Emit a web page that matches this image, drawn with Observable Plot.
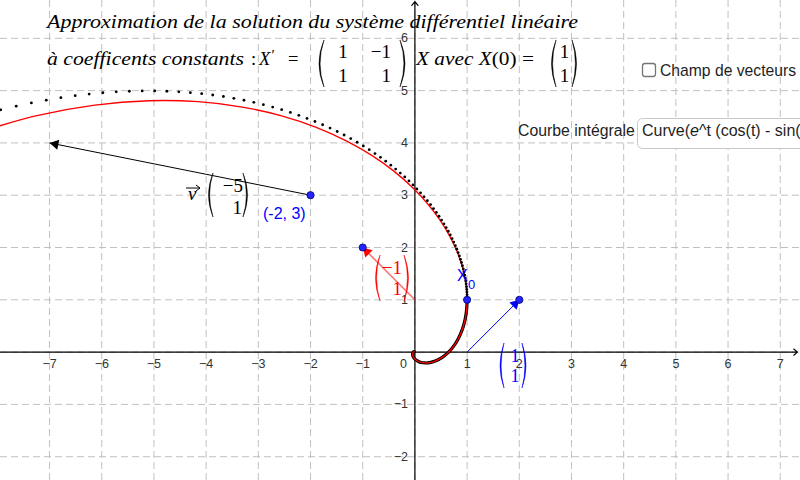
<!DOCTYPE html>
<html><head><meta charset="utf-8">
<script src="https://cdn.jsdelivr.net/npm/d3@7"></script>
<script src="https://cdn.jsdelivr.net/npm/@observablehq/plot@0.6"></script>
<style>
html,body{margin:0;padding:0;background:#fff;}
#wrap{position:relative;width:800px;height:480px;overflow:hidden;}
#overlay{position:absolute;left:0;top:0;pointer-events:none;}
</style></head><body>
<div id="wrap"></div>
<script>
// ---- view window (data units) ----
const xDomain = [-7.94, 7.388];
const yDomain = [-2.455, 6.723];

// ---- grid and tick labels ----
const gridXValues = [-7,-6,-5,-4,-3,-2,-1,0,1,2,3,4,5,6,7];
const gridYValues = [-2,-1,0,1,2,3,4,5,6];
const xTickValues = [-7,-6,-5,-4,-3,-2,-1,1,2,3,4,5,6,7];
const yTickValues = [-2,-1,1,2,3,4,5,6];

// ---- axes (start / arrow tip) ----
const axisFromX = [-7.94, 0];
const axisFromY = [0, -2.455];
const axisToX = [7.33, 0];
const axisToY = [0, 6.70];

// ---- exact integral curve (red), parameter t ----
const curveT = [-4.5,-4.25,-4,-3.75,-3.5,-3.25,-3,-2.75,-2.5,-2.25,-2,-1.8,-1.6,-1.4,-1.2,-1.0,-0.9,-0.8,-0.7,-0.6,-0.5,-0.4,-0.3,-0.2,-0.1,0,0.1,0.2,0.3,0.4,0.5,0.6,0.7,0.8,0.9,1.0,1.1,1.2,1.3,1.4,1.5,1.6,1.7,1.8,1.9];
const curveX = [-0.0132,-0.0191,-0.0258,-0.0327,-0.0389,-0.0427,-0.0423,-0.0347,-0.0166,0.0158,0.0667,0.1234,0.1959,0.2849,0.3899,0.5083,0.5712,0.6354,0.6997,0.7628,0.8231,0.8784,0.9267,0.9651,0.9907,1,0.9893,0.9544,0.8907,0.7931,0.6565,0.4750,0.2429,-0.0460,-0.3978,-0.8187,-1.3147,-1.8914,-2.5541,-3.3070,-4.1534,-5.0956,-6.1336,-7.2659,-8.4861];
const curveY = [0.0085,0.0064,0.0019,-0.0059,-0.0177,-0.0344,-0.0563,-0.0835,-0.1149,-0.1482,-0.1794,-0.1985,-0.2077,-0.2011,-0.1716,-0.1108,-0.0658,-0.0093,0.0599,0.1431,0.2415,0.3564,0.4888,0.6398,0.8100,1,1.2100,1.4397,1.6885,1.9550,2.2373,2.5327,2.8375,3.1471,3.4556,3.7561,4.0400,4.2976,4.5171,4.6855,4.7875,4.8063,4.7230,4.5169,4.1631];

// ---- Euler approximation points (black dots) ----
const eulerX = [1.000,1.000,0.999,0.996,0.993,0.988,0.982,0.974,0.965,0.954,0.941,0.927,0.911,0.893,0.874,0.852,0.828,0.803,0.775,0.744,0.712,0.677,0.639,0.599,0.556,0.511,0.462,0.411,0.357,0.300,0.239,0.175,0.108,0.038,-0.036,-0.114,-0.195,-0.280,-0.369,-0.462,-0.559,-0.660,-0.765,-0.875,-0.988,-1.107,-1.230,-1.357,-1.489,-1.626,-1.768,-1.915,-2.067,-2.224,-2.386,-2.553,-2.725,-2.903,-3.086,-3.275,-3.469,-3.669,-3.874,-4.085,-4.302,-4.524,-4.752,-4.986,-5.226,-5.471,-5.722,-5.979,-6.241,-6.509,-6.783,-7.063,-7.348,-7.639,-7.935,-8.236];
const eulerY = [1.000,1.048,1.097,1.147,1.199,1.252,1.305,1.360,1.416,1.473,1.532,1.591,1.651,1.713,1.775,1.839,1.904,1.969,2.036,2.103,2.171,2.241,2.311,2.381,2.453,2.525,2.598,2.671,2.745,2.820,2.895,2.970,3.045,3.121,3.197,3.273,3.349,3.424,3.500,3.575,3.650,3.724,3.797,3.870,3.942,4.013,4.083,4.151,4.218,4.284,4.347,4.409,4.469,4.527,4.582,4.635,4.685,4.732,4.776,4.816,4.853,4.887,4.916,4.941,4.961,4.977,4.988,4.994,4.994,4.988,4.977,4.959,4.934,4.903,4.864,4.818,4.765,4.703,4.632,4.553];

// ---- vectors ----
const vecFromX = [-2, 0, 1];
const vecFromY = [3, 1, 0];
const vecToX = [-7, -1, 2];
const vecToY = [4, 2, 1];
const vecColor = ["#000000", "#ff0000", "#0000ff"];
const vecOpacity = [1, 0.55, 1];

// ---- blue points ----
const pointX = [-2, -1, 1, 2];
const pointY = [3, 2, 1, 1];

const minus = d => d < 0 ? "\u2212" + (-d) : String(d);
const kx = 800 / (xDomain[1] - xDomain[0]);
const ky = 480 / (yDomain[1] - yDomain[0]);

function headMark(i) {
  const sx = (vecToX[i] - vecFromX[i]) * kx, sy = -(vecToY[i] - vecFromY[i]) * ky;
  const L = Math.hypot(sx, sy), ux = sx / L, uy = sy / L;
  const r = 3.8;
  const a = 2 * Math.sqrt(Math.PI * r * r / (3 * Math.sqrt(3)));
  const rot = Math.atan2(ux, -uy) * 180 / Math.PI;
  return Plot.dot([i], {x: j => vecToX[j], y: j => vecToY[j], symbol: "triangle", r, rotate: rot,
    fill: vecColor[i], stroke: "none", dx: -ux * a, dy: -uy * a});
}

const idx = n => d3.range(n);
const below = idx(curveT.length).filter(i => curveT[i] <= 0);

const chart = Plot.plot({
  width: 800, height: 480, margin: 0,
  x: {domain: xDomain, axis: null},
  y: {domain: yDomain, axis: null},
  style: {background: "#fff"},
  marks: [
    Plot.ruleX(gridXValues, {x: d => d, stroke: "#c0c0c0", strokeDasharray: "7,4", strokeWidth: 1}),
    Plot.ruleY(gridYValues, {y: d => d, stroke: "#c0c0c0", strokeDasharray: "7,4", strokeWidth: 1}),
    Plot.arrow(idx(2), {x1: i => axisFromX[i], y1: i => axisFromY[i], x2: i => axisToX[i], y2: i => axisToY[i],
      stroke: "#000", strokeWidth: 1.2, headAngle: 80, headLength: 6}),
    Plot.text(xTickValues, {x: d => d, y: 0, text: minus, dy: 12, fontSize: 12.5, fontFamily: "Liberation Sans, Arial, sans-serif", fill: "#333"}),
    Plot.text(yTickValues, {x: 0, y: d => d, text: minus, dx: -7, textAnchor: "end", fontSize: 12.5, fontFamily: "Liberation Sans, Arial, sans-serif", fill: "#333"}),
    Plot.text([0], {x: 0, y: 0, text: () => "0", dx: -11.5, dy: 12, fontSize: 12.5, fontFamily: "Liberation Sans, Arial, sans-serif", fill: "#333"}),
    ...idx(3).map(i => Plot.link([i], {x1: j => vecFromX[j], y1: j => vecFromY[j], x2: j => vecToX[j], y2: j => vecToY[j],
      stroke: vecColor[i], strokeOpacity: vecOpacity[i], strokeWidth: i === 1 ? 1.6 : 1})),
    ...idx(3).map(headMark),
    Plot.line(below, {x: i => curveX[i], y: i => curveY[i], stroke: "#000", strokeWidth: 3.2, curve: "catmull-rom"}),
    Plot.line(idx(curveT.length), {x: i => curveX[i], y: i => curveY[i], stroke: "#ff0000", strokeWidth: 1.3, curve: "catmull-rom"}),
    Plot.dot(idx(eulerX.length), {x: i => eulerX[i], y: i => eulerY[i], r: 1.4, fill: "#000"}),
    Plot.dot(idx(pointX.length), {x: i => pointX[i], y: i => pointY[i], r: 3.6, fill: "#2424ff", stroke: "#00006e", strokeWidth: 0.8})
  ]
});
document.getElementById("wrap").appendChild(chart);

// ---- annotations overlay (title, LaTeX labels, widgets) ----
function paren(x, y0, y1, side, b) {
  const ym = (y0 + y1) / 2, s = side === "L" ? -1 : 1, t = 2.2;
  return `<path d="M${x},${y0} Q${x + s * b},${ym} ${x},${y1} Q${x + s * (b - t)},${ym} ${x},${y0} Z" stroke-width="0.5"/>`;
}
const serif = "Liberation Serif, Times New Roman, serif";
const sans = "Liberation Sans, Arial, sans-serif";
const ov = `
<svg id="overlay" width="800" height="480" xmlns="http://www.w3.org/2000/svg">
 <g font-family="${serif}" fill="#000" stroke="#000">
  <text stroke="none" x="47" y="28" font-size="18.5" font-style="italic" textLength="531" lengthAdjust="spacingAndGlyphs">Approximation de la solution du système différentiel linéaire</text>
  <text stroke="none" x="47" y="65" font-size="18.5" font-style="italic" textLength="197" lengthAdjust="spacingAndGlyphs">à coefficents constants</text>
  <text stroke="none" x="251" y="65" font-size="18.5">:</text>
  <text stroke="none" x="259" y="65" font-size="18.5" font-style="italic">X</text>
  <text stroke="none" x="271.5" y="60" font-size="15">′</text>
  <text stroke="none" x="288" y="65" font-size="18.5">=</text>
  ${paren(324, 40, 87, "L", 10)}${paren(400, 40, 87, "R", 10)}
  <text stroke="none" x="343" y="57.5" font-size="19" text-anchor="middle">1</text>
  <text stroke="none" x="391" y="57.5" font-size="19" text-anchor="end">−1</text>
  <text stroke="none" x="343" y="81.5" font-size="19" text-anchor="middle">1</text>
  <text stroke="none" x="391" y="81.5" font-size="19" text-anchor="end">1</text>
  <text stroke="none" x="416" y="65" font-size="18.5" textLength="118" lengthAdjust="spacingAndGlyphs"><tspan font-style="italic">X avec X</tspan>(0) =</text>
  ${paren(556, 40, 87, "L", 9)}${paren(572, 40, 87, "R", 9)}
  <text stroke="none" x="564.5" y="57.5" font-size="19" text-anchor="middle">1</text>
  <text stroke="none" x="564.5" y="81.5" font-size="19" text-anchor="middle">1</text>

  <text stroke="none" x="188" y="200" font-size="19" font-style="italic">v</text>
  <path fill="none" stroke-width="1" d="M186,188 L200,188 M196,185 L200,188 L196,191"/>
  ${paren(213, 173, 217, "L", 9)}${paren(243, 173, 217, "R", 9)}
  <text stroke="none" x="243" y="191.5" font-size="19" text-anchor="end">−5</text>
  <text stroke="none" x="242" y="213.5" font-size="19" text-anchor="end">1</text>
 </g>
 <g font-family="${serif}" fill="#ff0000" stroke="#ff0000">
  ${paren(380, 255, 301, "L", 9)}${paren(404, 255, 301, "R", 9)}
  <text stroke="none" x="402" y="273.5" font-size="19" text-anchor="end">−1</text>
  <text stroke="none" x="402" y="295" font-size="19" text-anchor="end">1</text>
 </g>
 <g font-family="${serif}" fill="#0000ff" stroke="#0000ff">
  ${paren(504, 343, 388, "L", 8)}${paren(522, 343, 388, "R", 8)}
  <text stroke="none" x="515" y="362" font-size="18" text-anchor="middle">1</text>
  <text stroke="none" x="515" y="382" font-size="18" text-anchor="middle">1</text>
 </g>
 <g font-family="${sans}" fill="#0000ff">
  <text x="263" y="219" font-size="16">(-2, 3)</text>
  <text x="457" y="281" font-size="16">X</text>
  <text x="468" y="289" font-size="13">0</text>
 </g>
 <g font-family="${sans}" fill="#1e1e1e">
  <rect x="642.5" y="63.5" width="13" height="13" rx="2.5" fill="#fff" stroke="#757575" stroke-width="1.3"/>
  <text x="660" y="75.5" font-size="15.7">Champ de vecteurs</text>
  <text x="518" y="135.5" font-size="15.8">Courbe intégrale</text>
  <rect x="637.5" y="118.5" width="200" height="30" rx="5" fill="#fff" stroke="#c8c8c8" stroke-width="1"/>
  <text x="642" y="135.5" font-size="16">Curve(<tspan font-style="italic">e</tspan>^t (cos(t) - sin(</text>
 </g>
</svg>`;
document.getElementById("wrap").insertAdjacentHTML("beforeend", ov);
</script>
</body></html>
